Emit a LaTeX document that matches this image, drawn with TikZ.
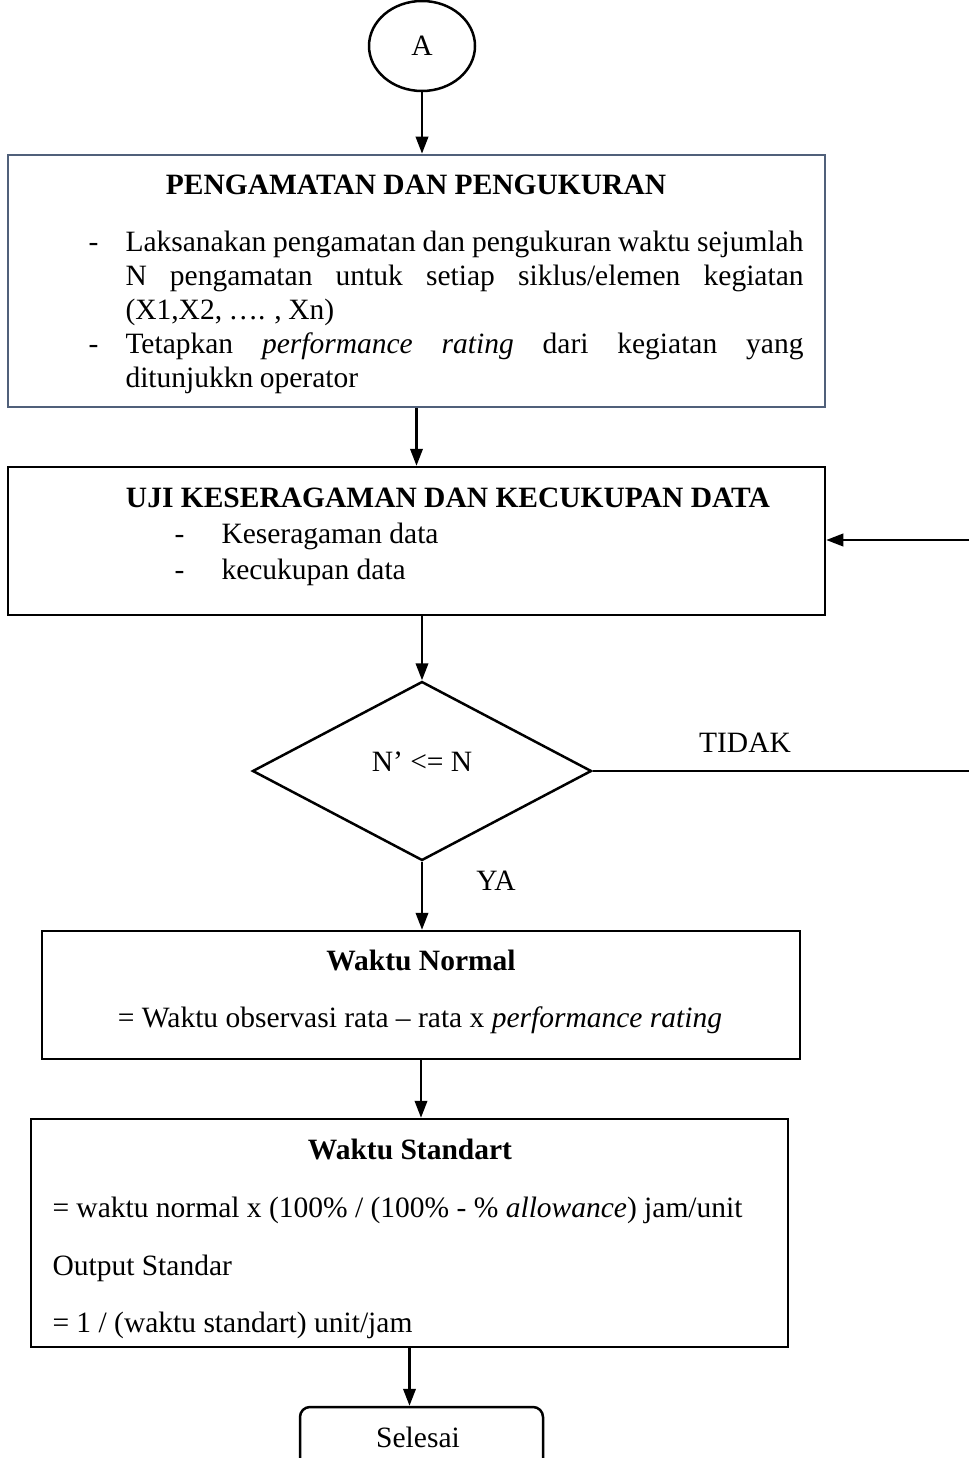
\documentclass[tikz,border=0pt]{standalone}
\usepackage{fontspec}
\setmainfont{Liberation Serif}
\usetikzlibrary{arrows.meta,shapes.geometric,positioning}
\definecolor{boxslate}{HTML}{50607A}

\begin{document}
\begin{tikzpicture}[x=0.4pt,y=-0.4pt,
  every node/.style={font=\fontsize{11.8}{13.6}\selectfont},
  box/.style={draw,line width=1pt,inner sep=0pt},
  txt/.style={inner sep=0pt,anchor=base},
  para/.style={txt,anchor=base west,text width=271.2pt,align=justify,
    execute at begin node={\spaceskip=.22em plus .6em minus .1em\tolerance=9999}},
  arr/.style={line width=0.9pt,-{Triangle[length=6.8pt,width=5pt]}}]
\useasboundingbox (0,0) rectangle (969,1458);

\node[box,ellipse,minimum width=42.4pt,minimum height=36pt] (A) at (422,46) {A};

\node[box,draw=boxslate,line width=1.1pt,minimum width=326.8pt,minimum height=100.8pt] (obs) at (416.5,281) {};
\node[txt] (obs-title) at (416,195) {\textbf{PENGAMATAN DAN PENGUKURAN}};
\node[txt,anchor=base west] (obs-d1) at (88,252) {-};
\node[para] (obs-p1) at (125,252)
  {Laksanakan pengamatan dan pengukuran waktu sejumlah\linebreak
   N pengamatan untuk setiap siklus/elemen kegiatan\linebreak
   (X1,X2, …. , Xn)};
\node[txt,anchor=base west] (obs-d2) at (88,353) {-};
\node[para] (obs-p2) at (125,353)
  {Tetapkan \textit{performance rating} dari kegiatan yang\linebreak
   ditunjukkn operator};

\node[box,minimum width=326.8pt,minimum height=59.2pt] (uji) at (416.5,541) {};
\node[txt] (uji-title) at (448,507) {\textbf{UJI KESERAGAMAN DAN KECUKUPAN DATA}};
\node[txt,anchor=base west] (uji-d1) at (174,543) {-};
\node[txt,anchor=base west] (uji-i1) at (221,543) {Keseragaman data};
\node[txt,anchor=base west] (uji-d2) at (174,579) {-};
\node[txt,anchor=base west] (uji-i2) at (221,579) {kecukupan data};

\node[box,diamond,minimum width=135.6pt,minimum height=71.6pt] (cek) at (422,771) {};
\node[txt] (cek-label) at (422,771) {N’ <= N};
\node[txt] (tidak) at (745,752) {TIDAK};
\node[txt] (ya) at (496,890) {YA};
\coordinate (tidak-end) at (969,771);
\coordinate (back-start) at (969,540);

\node[box,minimum width=303.2pt,minimum height=51.2pt] (normal) at (421,995) {};
\node[txt] (normal-title) at (421,970) {\textbf{Waktu Normal}};
\node[txt] (normal-rumus) at (420,1027) {= Waktu observasi rata -- rata x \textit{performance rating}};

\node[box,minimum width=302.8pt,minimum height=91.2pt] (std) at (409.5,1233) {};
\node[txt] (std-title) at (410,1159) {\textbf{Waktu Standart}};
\node[txt,anchor=base west] (std-l1) at (52,1217) {= waktu normal x (100\% / (100\% - \% \textit{allowance}) jam/unit};
\node[txt,anchor=base west] (std-l2) at (52,1275) {Output Standar};
\node[txt,anchor=base west] (std-l3) at (52,1332) {= 1 / (waktu standart) unit/jam};

\node[box,rounded corners=4pt,minimum width=97.2pt,minimum height=27.2pt] (selesai) at (421.5,1441) {};
\node[txt] (selesai-label) at (418,1447) {Selesai};

\draw[arr] (A.south) -- (A.south |- obs.north);
\draw[arr] (obs.south) -- (uji.north);
\draw[arr] (cek.north |- uji.south) -- (cek.north);
\draw[line width=0.5pt] (cek.east) -- (tidak-end);
\draw[arr] (back-start) -- (back-start -| uji.east);
\draw[arr] (cek.south) -- (cek.south |- normal.north);
\draw[arr] (normal.south) -- (normal.south |- std.north);
\draw[arr] (std.south) -- (std.south |- selesai.north);
\end{tikzpicture}
\end{document}
